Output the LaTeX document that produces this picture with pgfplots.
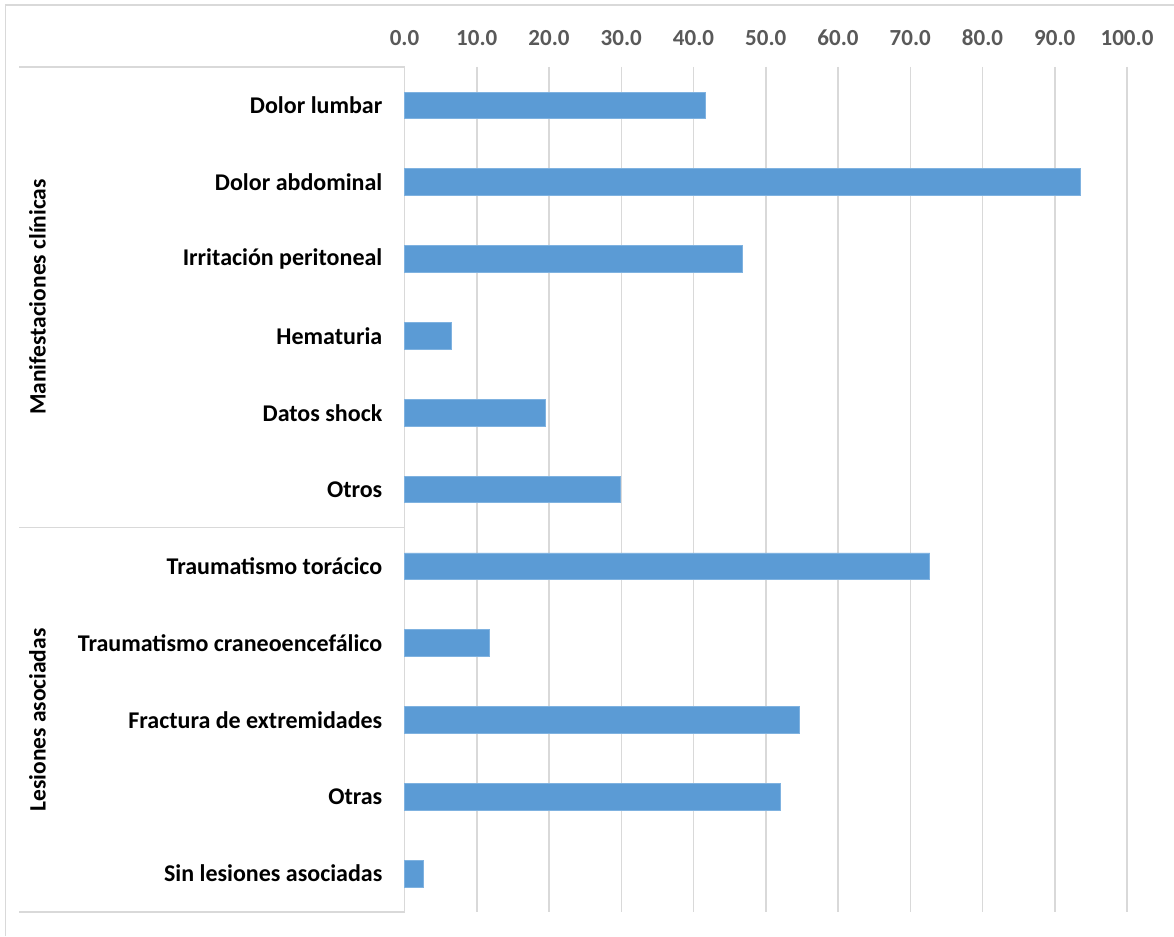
\documentclass[border=0pt]{standalone}
\usepackage{fontspec}
\setmainfont{Carlito}
\usepackage{pgfplots}
\pgfplotsset{compat=1.18}

\definecolor{barblue}{HTML}{5B9BD5}
\definecolor{baredge}{HTML}{7FB2E0}
\definecolor{gridgrey}{HTML}{D9D9D9}
\definecolor{ticktext}{HTML}{595959}

\begin{document}
\begin{tikzpicture}[x=1pt,y=1pt]
% page size = reference size, 1px = 1pt
\path[use as bounding box] (0,0) rectangle (1174,936);

% outer chart frame (right and bottom edges are cut off in the reference)
\draw[gridgrey, line width=1.5pt] (5.5,0) -- (5.5,931) -- (1174,931);

\begin{axis}[
    at={(404.5pt,24pt)}, anchor=south west,
    scale only axis,
    width=722.5pt, height=845pt,
    xmin=0, xmax=100,
    ymin=0.5, ymax=11.5,
    y dir=reverse,
    axis line style={draw=none},
    tick style={draw=none},
    xmajorgrids,
    major grid style={gridgrey, line width=1.5pt},
    xtick={0,10,...,100},
    xticklabel pos=upper,
    /pgf/number format/.cd, fixed, fixed zerofill, precision=1, assume math mode=true,
    /pgfplots/.cd,
    xticklabel style={font=\fontsize{23}{27}\selectfont\bfseries, text=ticktext,
        anchor=south, inner sep=0pt, yshift=21pt},
    ytick={1,...,11},
    yticklabels={Dolor lumbar, Dolor abdominal, Irritación peritoneal, Hematuria,
        Datos shock, Otros, Traumatismo torácico, Traumatismo craneoencefálico,
        Fractura de extremidades, Otras, Sin lesiones asociadas},
    yticklabel style={font=\fontsize{24}{28}\selectfont\bfseries, text=black,
        anchor=east, inner sep=0pt, xshift=-22pt},
    clip=false,
]
% percentages per category
\addplot[xbar, bar width=26.7pt, fill=barblue, draw=baredge, line width=0.8pt]
coordinates {
    (41.6,1) (93.5,2) (46.7,3) (6.5,4) (19.5,5) (29.9,6)
    (72.7,7) (11.7,8) (54.6,9) (52.0,10) (2.6,11)
};
\end{axis}

% group separators on the category side
\draw[gridgrey, line width=1.5pt] (19,869) -- (404.5,869);
\draw[gridgrey, line width=1.5pt] (19,408.5) -- (404.5,408.5);
\draw[gridgrey, line width=1.5pt] (19,24) -- (404.5,24);

% group labels
\node[rotate=90, font=\fontsize{23.5}{28}\selectfont\bfseries, inner sep=0pt]
    at (37.5,639) {Manifestaciones clínicas};
\node[rotate=90, font=\fontsize{23.5}{28}\selectfont\bfseries, inner sep=0pt]
    at (37.5,216) {Lesiones asociadas};
\end{tikzpicture}
\end{document}
